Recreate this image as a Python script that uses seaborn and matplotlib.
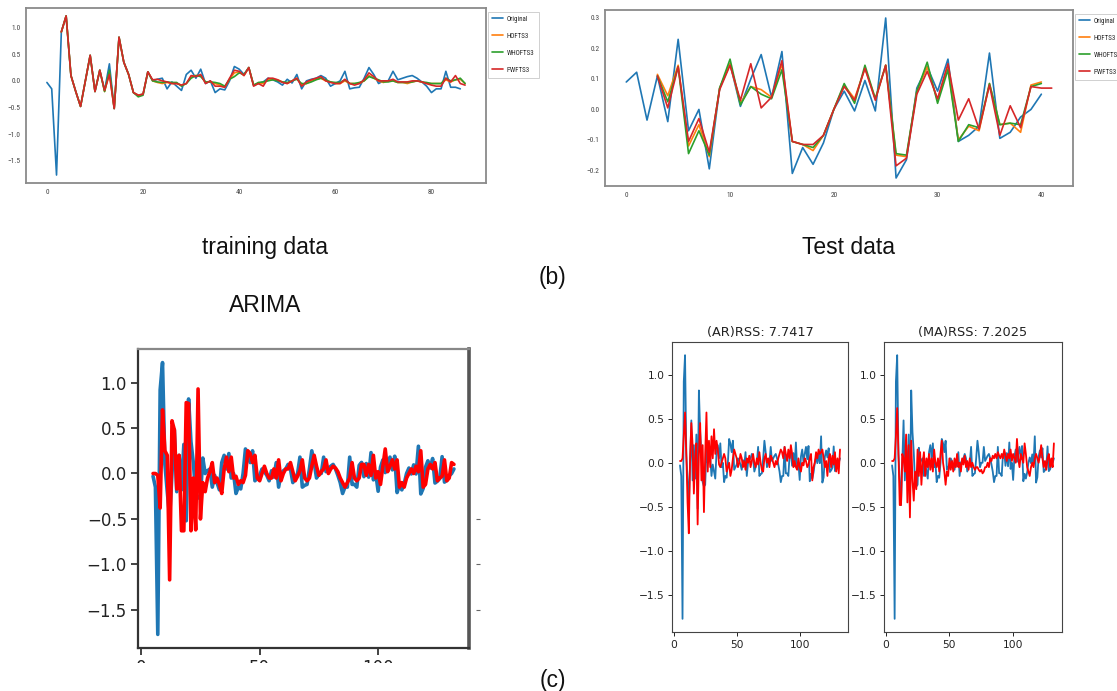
import numpy as np
import pandas as pd
import matplotlib
matplotlib.use("Agg")
import matplotlib.pyplot as plt
import seaborn as sns
from matplotlib.patches import Rectangle
from matplotlib import font_manager

# ---------------- data ----------------
series_names = ["Original", "HOFTS3", "WHOFTS3", "PWFTS3"]

train_original = [
    -0.03, -0.15, -1.77, 0.92, 1.22, 0.10, -0.20, -0.48, 0.00, 0.48,
    -0.20, 0.20, -0.18, 0.32, -0.52, 0.82, 0.35, 0.12, -0.22, -0.27,
    -0.25, 0.17, 0.00, 0.03, 0.05, -0.15, -0.02, -0.10, -0.18, 0.12,
    0.20, 0.05, 0.22, -0.05, 0.00, -0.22, -0.15, -0.17, 0.00, 0.27,
    0.22, 0.12, 0.25, -0.08, -0.05, -0.02, 0.05, 0.02, -0.02, -0.08,
    0.03, -0.04, 0.12, -0.15, 0.00, 0.03, 0.05, 0.10, 0.05, -0.10,
    -0.05, 0.00, 0.18, -0.15, -0.13, -0.12, 0.05, 0.25, 0.12, -0.05,
    0.00, 0.00, 0.18, 0.02, 0.05, 0.08, 0.10, 0.05, -0.02, -0.10,
    -0.22, -0.15, -0.15, 0.18, -0.12, -0.12, -0.15]

# forecasts start at step 3
train_hofts3 = [
    0.92, 1.22, 0.10, -0.20, -0.48, 0.00, 0.48, -0.20, 0.20, -0.20,
    0.15, -0.52, 0.82, 0.35, 0.12, -0.22, -0.27, -0.25, 0.17,
    0.00, -0.03, -0.05, -0.03, -0.05, -0.05, -0.08, -0.05, 0.08, 0.10,
    0.10, -0.03, -0.02, -0.05, -0.08, -0.12, 0.03, 0.15, 0.17, 0.10,
    0.25, -0.08, -0.05, -0.05, 0.02, 0.03, 0.02, -0.02, -0.05, 0.00,
    0.05, -0.08, -0.05, 0.00, 0.03, 0.05, 0.00, -0.02, -0.05, -0.05,
    0.00, -0.05, -0.05, -0.05, 0.00, 0.10, 0.05, 0.00, -0.03, 0.00,
    0.00, -0.03, -0.03, -0.05, -0.02, 0.00, -0.02, -0.05, -0.05, -0.05,
    -0.05, 0.02, -0.02, 0.02, 0.03, -0.05]
train_whofts3 = [
    0.92, 1.22, 0.10, -0.20, -0.48, 0.00, 0.48, -0.20, 0.20, -0.20,
    0.20, -0.52, 0.82, 0.35, 0.12, -0.22, -0.30, -0.27, 0.17,
    0.00, -0.02, -0.03, -0.02, -0.03, -0.03, -0.10, -0.05, 0.05, 0.10,
    0.08, -0.02, -0.02, -0.03, -0.05, -0.10, 0.03, 0.08, 0.15, 0.12,
    0.25, -0.08, -0.03, -0.02, 0.00, 0.02, 0.00, -0.02, -0.03, 0.00,
    0.03, -0.05, -0.05, -0.02, 0.02, 0.05, 0.02, -0.02, -0.03, -0.03,
    0.02, -0.05, -0.05, -0.03, 0.00, 0.08, 0.05, 0.02, -0.02, -0.02,
    0.00, -0.03, -0.03, -0.03, -0.02, 0.00, -0.02, -0.03, -0.05, -0.05,
    -0.05, 0.05, 0.00, 0.02, 0.05, -0.05]
train_pwfts3 = [
    0.92, 1.22, 0.10, -0.20, -0.48, 0.00, 0.48, -0.20, 0.20, -0.18,
    0.12, -0.52, 0.82, 0.35, 0.12, -0.22, -0.27, -0.25, 0.17,
    0.02, 0.03, 0.00, -0.02, -0.05, -0.05, -0.08, -0.05, 0.10, 0.08,
    0.12, -0.05, 0.00, -0.10, -0.10, -0.12, 0.05, 0.20, 0.18, 0.10,
    0.25, -0.10, -0.05, -0.10, 0.05, 0.05, 0.02, -0.03, -0.05, 0.00,
    0.05, -0.10, -0.02, 0.02, 0.05, 0.08, 0.00, -0.03, -0.05, -0.05,
    0.03, -0.05, -0.08, -0.05, 0.02, 0.15, 0.08, 0.00, 0.00, 0.00,
    0.03, -0.02, -0.02, -0.02, 0.00, 0.00, -0.02, -0.05, -0.08, -0.10,
    -0.10, 0.05, -0.02, 0.10, -0.05, -0.08]

test_original = [
    0.090, 0.122, -0.035, 0.110, -0.040, 0.230, -0.070, 0.000, -0.195, 0.070,
    0.150, 0.010, 0.100, 0.180, 0.040, 0.190, -0.210, -0.125, -0.180, -0.110,
    0.000, 0.060, -0.005, 0.095, -0.005, 0.300, -0.225, -0.165, 0.070, 0.140,
    0.060, 0.165, -0.105, -0.085, -0.055, 0.185, -0.095, -0.075, -0.025, 0.000,
    0.050]
test_hofts3 = [
    0.115, 0.045, 0.145, -0.120, -0.050, -0.155, 0.070, 0.150, 0.020, 0.075,
    0.065, 0.040, 0.150, -0.105, -0.115, -0.135, -0.085, 0.000, 0.080, 0.035,
    0.135, 0.035, 0.145, -0.150, -0.155, 0.060, 0.140, 0.030, 0.140, -0.100,
    -0.055, -0.070, 0.085, -0.050, -0.045, -0.075, 0.080, 0.090]
test_whofts3 = [
    0.110, 0.025, 0.140, -0.145, -0.070, -0.150, 0.070, 0.165, 0.015, 0.075,
    0.050, 0.035, 0.130, -0.105, -0.115, -0.125, -0.085, 0.000, 0.085, 0.020,
    0.145, 0.035, 0.145, -0.145, -0.150, 0.060, 0.155, 0.020, 0.130, -0.105,
    -0.050, -0.060, 0.085, -0.050, -0.045, -0.050, 0.075, 0.085]
test_pwfts3 = [
    0.110, 0.005, 0.140, -0.105, -0.030, -0.140, 0.065, 0.145, 0.030, 0.150,
    0.005, 0.040, 0.160, -0.105, -0.115, -0.115, -0.085, 0.000, 0.075, 0.030,
    0.135, 0.030, 0.145, -0.185, -0.160, 0.050, 0.125, 0.035, 0.150, -0.035,
    0.035, -0.065, 0.080, -0.085, 0.012, -0.060, 0.075, 0.070, 0.070]

# ARIMA panels: actual = training + test series, starting at step 5
arima_actual = train_original + test_original
arima_pred = [
    0.00, 0.00, -0.02, -0.38, 0.70, 0.25, 0.20, -1.17, 0.58, 0.48,
    -0.17, 0.20, -0.63, -0.63, 0.78, 0.77, -0.63, -0.05, -0.62, 0.93,
    -0.50, -0.10, -0.20, -0.05, 0.02, 0.12, -0.10, -0.05, -0.12, -0.22,
    0.05, 0.18, 0.02, 0.18, -0.05, -0.03, -0.12, -0.08, -0.10, -0.02,
    0.25, 0.22, 0.12, 0.20, -0.05, -0.08, 0.00, 0.08, 0.00, -0.05,
    -0.05, 0.05, -0.05, 0.15, -0.08, 0.00, 0.05, 0.05, 0.12, 0.02,
    -0.08, -0.03, 0.03, 0.15, -0.05, -0.08, -0.05, 0.08, 0.20, 0.08,
    -0.02, 0.02, 0.05, 0.15, 0.00, 0.05, 0.08, 0.06, 0.02, -0.05,
    -0.10, -0.15, -0.10, -0.05, 0.12, -0.05, -0.08, -0.05, 0.10, 0.10,
    -0.02, 0.10, -0.02, 0.20, -0.05, 0.02, -0.12, 0.08, 0.27, 0.02,
    0.08, 0.15, 0.05, 0.15, -0.15, -0.10, -0.15, -0.05, 0.00, 0.05,
    0.00, 0.08, 0.02, 0.25, -0.15, -0.12, 0.05, 0.10, 0.05, 0.12,
    -0.08, -0.05, -0.03, 0.15, -0.08, -0.05, 0.12, 0.10]
ar_pred = [
    0.02, 0.02, 0.05, 0.30, 0.57, 0.10, -0.45, -0.80, 0.05, 0.45,
    0.20, -0.35, 0.05, 0.22, -0.70, 0.10, 0.45, -0.20, 0.20, -0.56,
    0.10, 0.57, -0.10, 0.25, -0.05, 0.30, 0.05, 0.38, 0.10, 0.25,
    0.15, -0.02, -0.05, 0.00, 0.05, 0.10, 0.05, -0.10, -0.05, 0.00,
    -0.15, -0.08, 0.05, 0.15, 0.10, 0.05, -0.05, 0.00, 0.10, 0.05,
    -0.05, 0.02, -0.08, 0.05, 0.00, 0.08, -0.05, 0.02, 0.10, 0.00,
    -0.05, 0.05, -0.02, 0.12, 0.00, -0.08, -0.10, 0.05, 0.10, 0.00,
    0.05, -0.05, 0.08, 0.05, 0.00, -0.05, 0.02, -0.02, 0.05, 0.10,
    0.15, 0.12, 0.05, 0.18, 0.10, 0.02, 0.15, 0.05, 0.20, 0.10,
    -0.05, 0.02, -0.05, -0.08, 0.05, -0.05, -0.10, 0.00, -0.03, 0.05,
    0.02, -0.05, -0.02, 0.05, 0.10, -0.20, -0.05, 0.00, 0.12, 0.05,
    0.15, 0.10, 0.12, 0.15, 0.05, -0.05, 0.02, -0.15, 0.05, 0.10,
    -0.05, 0.08, -0.02, 0.12, -0.10, 0.05, -0.12, 0.15]
ma_pred = [
    0.02, 0.02, 0.05, 0.30, 0.62, 0.10, -0.48, -0.48, 0.10, 0.05,
    -0.10, 0.32, -0.45, 0.20, -0.62, 0.25, -0.20, -0.43, -0.10, -0.30,
    0.15, -0.15, 0.12, -0.25, 0.00, 0.12, -0.15, 0.05, -0.05, 0.10,
    -0.08, 0.05, -0.10, 0.15, 0.00, -0.05, 0.05, -0.10, 0.10, 0.25,
    0.00, -0.10, -0.25, -0.10, -0.15, 0.05, -0.08, 0.02, -0.10, 0.05,
    -0.05, 0.10, -0.05, 0.00, -0.10, 0.05, -0.02, 0.08, -0.05, 0.02,
    -0.08, 0.05, -0.05, 0.00, -0.05, -0.08, -0.05, -0.05, -0.08, -0.10,
    -0.08, -0.12, -0.10, -0.05, -0.05, 0.00, -0.05, 0.05, 0.02, 0.08,
    0.05, 0.10, 0.05, 0.12, 0.08, 0.05, 0.10, 0.05, 0.15, 0.08,
    0.02, 0.10, 0.05, 0.15, 0.02, 0.10, 0.05, 0.00, 0.27, 0.05,
    -0.05, 0.10, 0.05, 0.00, 0.22, 0.10, -0.05, -0.10, -0.15, -0.05,
    0.00, -0.05, 0.05, 0.10, 0.05, 0.00, 0.08, 0.20, 0.05, -0.05,
    0.02, -0.08, 0.05, 0.10, -0.05, 0.05, -0.05, 0.22]

ar_title = "(AR)RSS: 7.7417"
ma_title = "(MA)RSS: 7.2025"
captions = {"train": "training data", "test": "Test data", "b": "(b)",
            "arima": "ARIMA", "c": "(c)"}

fts_colors = ["#1f77b4", "#ff7f0e", "#2ca02c", "#d62728"]
ARIMA_START = 5
FTS_START = 3

# pick a narrow font for the small top-panel texts if one is installed
_names = {f.name for f in font_manager.fontManager.ttflist}
NARROW = next((n for n in ["Liberation Sans Narrow", "DejaVu Sans Condensed",
                           "Roboto Condensed", "Open Sans Condensed"] if n in _names),
              "Liberation Sans")

# ---------------- figure ----------------
sns.set_style("white")
plt.rcParams["font.family"] = ["DejaVu Sans"]
fig = plt.figure(figsize=(11.17, 6.91), dpi=100)
W, H = 1117, 691


def px_axes(l, t, r, b):
    return fig.add_axes([l / W, 1 - b / H, (r - l) / W, (b - t) / H])


def fts_panel(ax, orig, forecasts, yticks, xticks):
    sns.lineplot(x=np.arange(len(orig)), y=orig, ax=ax, color=fts_colors[0],
                 lw=1.2, label=series_names[0])
    for name, vals, col in zip(series_names[1:], forecasts, fts_colors[1:]):
        sns.lineplot(x=np.arange(FTS_START, FTS_START + len(vals)), y=vals, ax=ax,
                     color=col, lw=1.2, label=name)
    ax.set_yticks(yticks)
    ax.set_xticks(xticks)
    ax.tick_params(labelsize=5.3, length=2, width=0.6, colors="#444", pad=2)
    for lab in ax.get_xticklabels() + ax.get_yticklabels():
        lab.set_family(NARROW)
    for s in ax.spines.values():
        s.set_color("#8a8a8a")
        s.set_linewidth(1.3)
    leg = ax.legend(loc="upper left", bbox_to_anchor=(1.004, 0.98),
                    prop={"family": NARROW, "size": 5.0},
                    handlelength=1.6, labelspacing=1.45, borderpad=0.6,
                    frameon=True, fancybox=False, handletextpad=0.55,
                    borderaxespad=0.0)
    leg.get_frame().set_edgecolor("#bbbbbb")
    leg.get_frame().set_linewidth(0.6)
    for h in leg.get_lines():
        h.set_linewidth(1.2)


ax1 = px_axes(26, 8, 486, 183)
fts_panel(ax1, train_original, [train_hofts3, train_whofts3, train_pwfts3],
          [-1.5, -1.0, -0.5, 0.0, 0.5, 1.0], [0, 20, 40, 60, 80])
ax2 = px_axes(605, 10, 1073, 186)
fts_panel(ax2, test_original, [test_hofts3, test_whofts3, test_pwfts3],
          [-0.2, -0.1, 0.0, 0.1, 0.2, 0.3], [0, 10, 20, 30, 40])

# big ARIMA panel
ax3 = px_axes(138, 349, 469, 648)
xa = np.arange(ARIMA_START, ARIMA_START + len(arima_actual))
sns.lineplot(x=xa, y=arima_actual, ax=ax3, color="#1f77b4", lw=2.6)
sns.lineplot(x=np.arange(ARIMA_START, ARIMA_START + len(arima_pred)), y=arima_pred,
             ax=ax3, color="red", lw=2.6)
ax3.set_yticks([-1.5, -1.0, -0.5, 0.0, 0.5, 1.0])
ax3.set_xticks([0, 50, 100])
ax3.tick_params(labelsize=12, length=5, width=1.2, colors="#222", pad=3,
                left=True, bottom=True)
for side, (c, w) in {"left": ("#333", 1.6), "bottom": ("#333", 1.6),
                     "top": ("#888", 1.6), "right": ("#555", 2.6)}.items():
    ax3.spines[side].set_color(c)
    ax3.spines[side].set_linewidth(w)
tw = ax3.twinx()
tw.set_ylim(ax3.get_ylim())
tw.set_yticks([-1.5, -1.0, -0.5])
tw.set_yticklabels([])
for s in tw.spines.values():
    s.set_visible(False)
tw.spines["right"].set_position(("outward", 5))
tw.tick_params(length=3, width=0.8, colors="#666", right=True)

# AR / MA panels
for (l, r), pred, title in [((672, 848), ar_pred, ar_title),
                            ((884, 1062), ma_pred, ma_title)]:
    ax = px_axes(l, 342, r, 632)
    sns.lineplot(x=xa, y=arima_actual, ax=ax, color="#1f77b4", lw=1.3)
    sns.lineplot(x=np.arange(ARIMA_START, ARIMA_START + len(pred)), y=pred, ax=ax,
                 color="red", lw=1.3)
    ax.set_yticks([-1.5, -1.0, -0.5, 0.0, 0.5, 1.0])
    ax.set_xticks([0, 50, 100])
    ax.tick_params(labelsize=7.7, length=3, width=0.7, colors="#222", pad=2.5,
                   left=True, bottom=True)
    for s in ax.spines.values():
        s.set_color("#444")
        s.set_linewidth(0.8)
    ax.set_title(title, fontsize=9.3, pad=4, color="#222")

# captions
cap_font = dict(family="Liberation Sans", fontsize=16.5, color="#111",
                ha="center", va="center")
fig.text(265 / W, 1 - 247 / H, captions["train"], **cap_font)
fig.text(848 / W, 1 - 247 / H, captions["test"], **cap_font)
fig.text(553 / W, 1 - 277 / H, captions["b"], **cap_font)
fig.text(265 / W, 1 - 306 / H, captions["arima"], **cap_font)
fig.text(553 / W, 1 - 680 / H, captions["c"], **cap_font)

# the reference crops the lower half of the ARIMA x tick labels
fig.add_artist(Rectangle((90 / W, 1 - 675 / H), 400 / W, 12 / H,
                         transform=fig.transFigure, facecolor="white",
                         edgecolor="none", zorder=10))

fig.savefig("out.png", dpi=100, facecolor="white")
